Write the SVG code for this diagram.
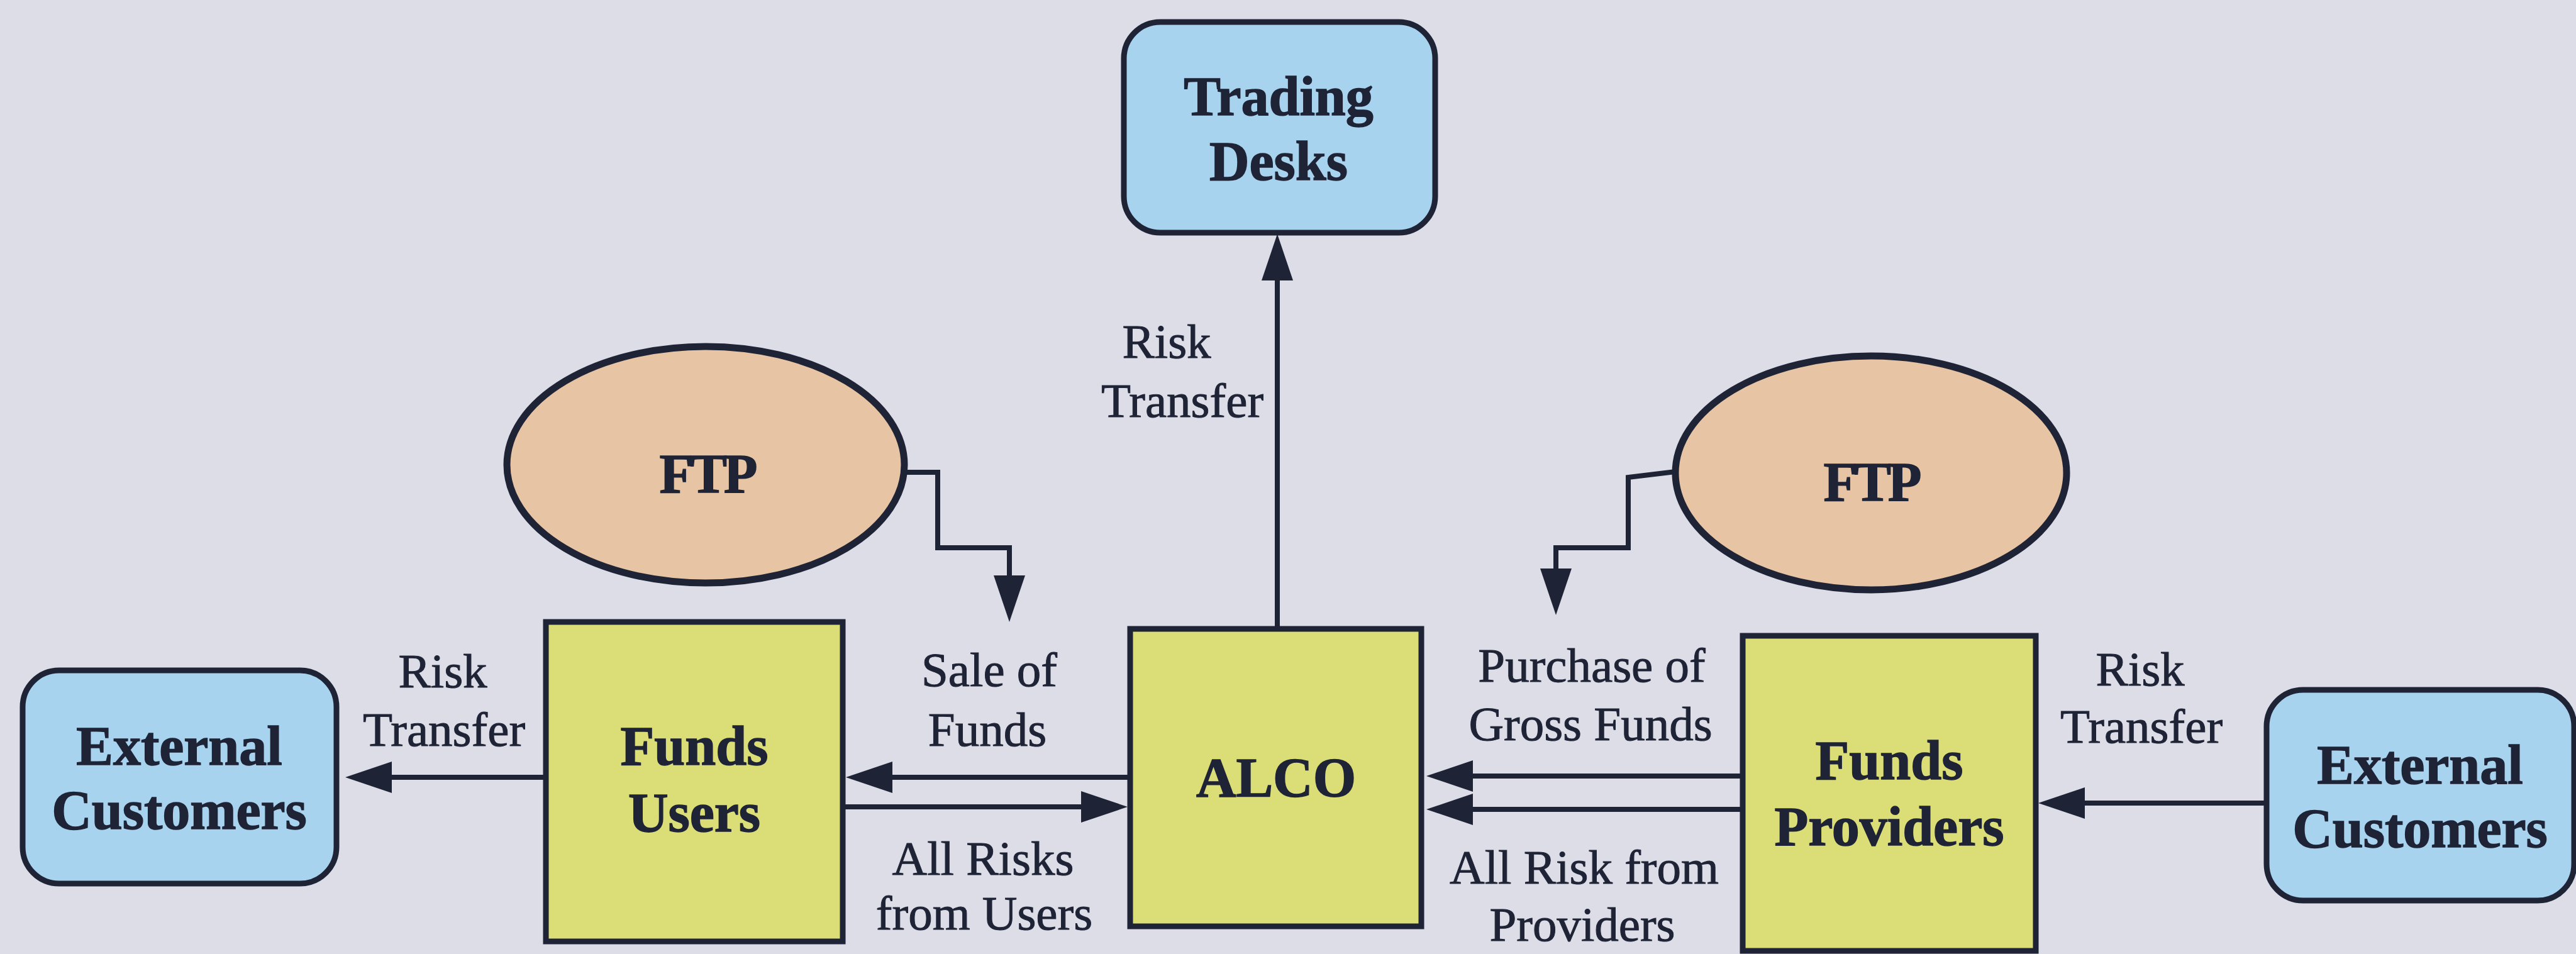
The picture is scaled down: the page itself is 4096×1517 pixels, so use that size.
<svg xmlns="http://www.w3.org/2000/svg" width="4096" height="1517" viewBox="0 0 4096 1517">
  <defs>
    <style>
      .ext { fill: #a8d3ef; stroke: #1f2336; stroke-width: 9; }
      .unit { fill: #dbdd76; stroke: #1f2336; stroke-width: 9; }
      .ftp { fill: #e6c4a4; stroke: #1f2336; stroke-width: 11; }
      .node-text { font-family: "Liberation Serif", "Times New Roman", serif; font-weight: bold; font-size: 88px; fill: #1f2336; stroke: #1f2336; stroke-width: 1.5; text-anchor: middle; }
      .label { font-family: "Liberation Serif", "Times New Roman", serif; font-size: 77px; fill: #1f2336; stroke: #1f2336; stroke-width: 1; text-anchor: middle; }
      .flow { fill: none; stroke: #1f2336; stroke-width: 8; marker-end: url(#ah); }
    </style>
    <marker id="ah" viewBox="0 0 74 50" refX="2" refY="25" markerWidth="74" markerHeight="50" markerUnits="userSpaceOnUse" orient="auto">
      <path d="M0,0 L74,25 L0,50 z" fill="#1f2336"/>
    </marker>
  </defs>

  <rect x="0" y="0" width="4096" height="1517" fill="#dcdde6"/>

  <!-- connectors -->
  <g id="connectors">
    <path class="flow" d="M869,1236 H621"/>
    <path class="flow" d="M1797,1236 H1417"/>
    <path class="flow" d="M1342,1283 H1721"/>
    <path class="flow" d="M2771,1234 H2340"/>
    <path class="flow" d="M2771,1287 H2340"/>
    <path class="flow" d="M3604,1277 H3313"/>
    <path class="flow" d="M2031,1000 V444"/>
    <path class="flow" d="M1440,751 H1491 V871 H1605 V917"/>
    <path class="flow" d="M2664,750 L2589,759 V871 H2474 V906"/>
  </g>

  <!-- connector labels -->
  <g id="labels">
    <text class="label" x="1855" y="569">Risk</text>
    <text class="label" x="1880" y="663">Transfer</text>
    <text class="label" x="704" y="1093">Risk</text>
    <text class="label" x="706" y="1186">Transfer</text>
    <text class="label" x="1573" y="1091">Sale of</text>
    <text class="label" x="1570" y="1186">Funds</text>
    <text class="label" x="1563" y="1391">All Risks</text>
    <text class="label" x="1565" y="1478">from Users</text>
    <text class="label" x="2531" y="1084">Purchase of</text>
    <text class="label" x="2529" y="1177">Gross Funds</text>
    <text class="label" x="2519" y="1405">All Risk from</text>
    <text class="label" x="2516" y="1496">Providers</text>
    <text class="label" x="3403" y="1090">Risk</text>
    <text class="label" x="3405" y="1181">Transfer</text>
  </g>

  <g id="trading-desks">
    <rect class="ext" x="1787" y="35" width="495" height="335" rx="58" ry="58"/>
    <text class="node-text" x="2033" y="183">Trading</text>
    <text class="node-text" x="2033" y="286">Desks</text>
  </g>

  <g id="external-customers-left">
    <rect class="ext" x="36" y="1066" width="499" height="339" rx="58" ry="58"/>
    <text class="node-text" x="285" y="1216">External</text>
    <text class="node-text" x="285" y="1318">Customers</text>
  </g>

  <g id="funds-users">
    <rect class="unit" x="868" y="989" width="472" height="508"/>
    <text class="node-text" x="1104" y="1216">Funds</text>
    <text class="node-text" x="1104" y="1322">Users</text>
  </g>

  <g id="alco">
    <rect class="unit" x="1797" y="1000" width="463" height="473"/>
    <text class="node-text" x="2029" y="1266">ALCO</text>
  </g>

  <g id="funds-providers">
    <rect class="unit" x="2771" y="1011" width="466" height="501"/>
    <text class="node-text" x="3004" y="1239">Funds</text>
    <text class="node-text" x="3004" y="1344">Providers</text>
  </g>

  <g id="external-customers-right">
    <rect class="ext" x="3604" y="1097" width="489" height="335" rx="58" ry="58"/>
    <text class="node-text" x="3848" y="1246">External</text>
    <text class="node-text" x="3848" y="1347">Customers</text>
  </g>

  <g id="ftp-users">
    <ellipse class="ftp" cx="1122" cy="739" rx="316" ry="188"/>
    <text class="node-text" x="1124" y="783" letter-spacing="-5">FTP</text>
  </g>

  <g id="ftp-providers">
    <ellipse class="ftp" cx="2975" cy="752" rx="311" ry="186"/>
    <text class="node-text" x="2975" y="796" letter-spacing="-5">FTP</text>
  </g>
</svg>
